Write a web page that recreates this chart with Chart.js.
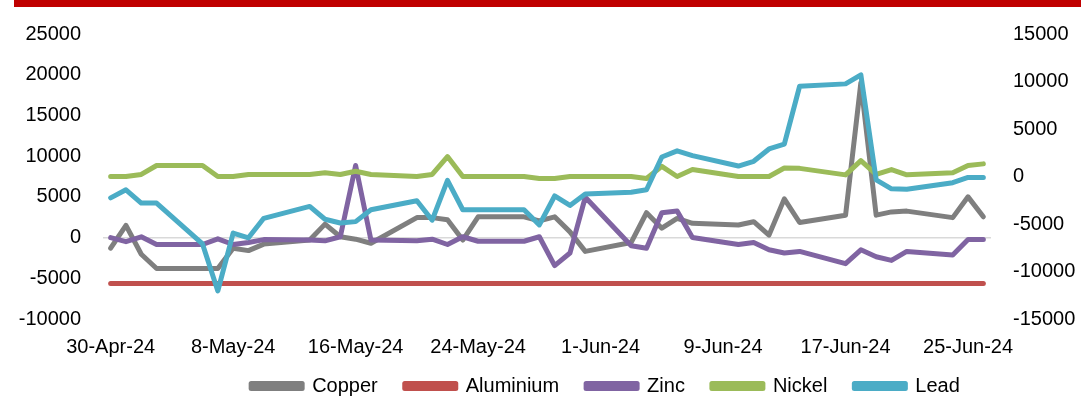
<!DOCTYPE html>
<html lang="en">

<head>
  <meta charset="UTF-8">
  <title>Metals</title>
  <script src="https://cdn.jsdelivr.net/npm/chart.js@4.4.1/dist/chart.umd.min.js"></script>
  <style>
    body {
      margin: 0;
      overflow: hidden;
      background: #fff;
    }

    .bar {
      position: absolute;
      left: 14px;
      top: 0;
      width: 1067px;
      height: 7px;
      background: #c00000;
    }

    .chart-container {
      position: relative;
      width: 1081px;
      height: 417px;
    }
  </style>
</head>

<body>
  <div class="chart-container">
    <canvas id="chart"></canvas>
  </div>
  <div class="bar"></div>

  <script>
    const dates = [
      '30-Apr-24', '1-May-24', '2-May-24', '3-May-24', '4-May-24', '5-May-24', '6-May-24', '7-May-24',
      '8-May-24', '9-May-24', '10-May-24', '11-May-24', '12-May-24', '13-May-24', '14-May-24', '15-May-24',
      '16-May-24', '17-May-24', '18-May-24', '19-May-24', '20-May-24', '21-May-24', '22-May-24', '23-May-24',
      '24-May-24', '25-May-24', '26-May-24', '27-May-24', '28-May-24', '29-May-24', '30-May-24', '31-May-24',
      '1-Jun-24', '2-Jun-24', '3-Jun-24', '4-Jun-24', '5-Jun-24', '6-Jun-24', '7-Jun-24', '8-Jun-24',
      '9-Jun-24', '10-Jun-24', '11-Jun-24', '12-Jun-24', '13-Jun-24', '14-Jun-24', '15-Jun-24', '16-Jun-24',
      '17-Jun-24', '18-Jun-24', '19-Jun-24', '20-Jun-24', '21-Jun-24', '22-Jun-24', '23-Jun-24', '24-Jun-24',
      '25-Jun-24', '26-Jun-24'
    ];

    // weekends are null, the line jumps over them
    const copper = [
      -1300, 1500, -2050, -3800, null, null, -3800, -3800,
      -1300, -1600, -800, null, null, -300, 1650, 100,
      -200, -700, null, null, 2450, 2450, 2200, -300,
      2550, null, null, 2550, 2050, 2550, 700, -1700,
      null, null, -600, 3050, 1150, 2350, 1750, null,
      null, 1550, 1950, 300, 4750, 1850, null, null,
      2750, 19000, 2750, 3150, 3250, null, null, 2450,
      5000, 2550
    ];

    const aluminium = [
      -5650, -5650, -5650, -5650, null, null, -5650, -5650,
      -5650, -5650, -5650, null, null, -5650, -5650, -5650,
      -5650, -5650, null, null, -5650, -5650, -5650, -5650,
      -5650, null, null, -5650, -5650, -5650, -5650, -5650,
      null, null, -5650, -5650, -5650, -5650, -5650, null,
      null, -5650, -5650, -5650, -5650, -5650, null, null,
      -5650, -5650, -5650, -5650, -5650, null, null, -5650,
      -5650, -5650
    ];

    const zinc = [
      0, -500, 100, -850, null, null, -850, -150,
      -850, -600, -250, null, null, -300, -400, 100,
      8850, -300, null, null, -400, -200, -850, 100,
      -450, null, null, -450, 100, -3450, -1900, 4950,
      null, null, -1000, -1300, 3050, 3250, 0, null,
      null, -850, -600, -1500, -1900, -1700, null, null,
      -3200, -1500, -2350, -2800, -1700, null, null, -2150,
      -250, -250
    ];

    const nickel = [
      7500, 7500, 7750, 8850, null, null, 8850, 7500,
      7500, 7750, 7750, null, null, 7750, 7950, 7750,
      8150, 7750, null, null, 7500, 7750, 9950, 7500,
      7500, null, null, 7500, 7250, 7250, 7500, 7500,
      null, null, 7500, 7250, 8750, 7500, 8350, null,
      null, 7500, 7500, 7500, 8550, 8500, null, null,
      7700, 9450, 7750, 8350, 7700, null, null, 7950,
      8850, 9050
    ];

    // lead is read against the right hand axis
    const lead = [
      -2250, -1400, -2800, -2800, null, null, -7100, -12050,
      -5950, -6450, -4400, null, null, -3150, -4500, -4900,
      -4750, -3500, null, null, -2550, -4600, -400, -3500,
      -3500, null, null, -3500, -5100, -2050, -3050, -1850,
      null, null, -1650, -1400, 2050, 2700, 2200, null,
      null, 1100, 1600, 2900, 3400, 9500, null, null,
      9750, 10700, -350, -1300, -1350, null, null, -650,
      -100, -100
    ];

    const font = { family: '"Liberation Sans", Arial, sans-serif', size: 20 };

    function line(label, data, color, axis, order) {
      return {
        label: label,
        data: data,
        yAxisID: axis,
        order: order,
        borderColor: color,
        backgroundColor: color,
        borderWidth: 5,
        borderJoinStyle: 'round',
        borderCapStyle: 'round',
        pointRadius: 0,
        tension: 0,
        spanGaps: true
      };
    }

    // move the legend a bit right and up, like the excel original
    const shiftLegend = {
      id: 'shiftLegend',
      afterLayout(chart) {
        chart.legend.left += 65;
        chart.legend.right += 65;
        chart.legend.top -= 11;
        chart.legend.bottom -= 11;
      }
    };

    new Chart(document.getElementById('chart'), {
      type: 'line',
      data: {
        labels: dates,
        datasets: [
          line('Copper', copper, '#7f7f7f', 'y', 5),
          line('Aluminium', aluminium, '#c0504d', 'y', 4),
          line('Zinc', zinc, '#8064a2', 'y', 3),
          line('Nickel', nickel, '#9bbb59', 'y', 2),
          line('Lead', lead, '#4bacc6', 'y1', 1)
        ]
      },
      plugins: [shiftLegend],
      options: {
        responsive: true,
        maintainAspectRatio: false,
        animation: false,
        layout: { padding: { top: 24, left: 0, right: 0, bottom: 0 } },
        plugins: {
          tooltip: { enabled: false },
          legend: {
            position: 'bottom',
            labels: {
              font: font,
              color: '#000',
              boxWidth: 51,
              boxHeight: 5,
              padding: 27,
              sort: (a, b) => a.datasetIndex - b.datasetIndex
            }
          }
        },
        scales: {
          x: {
            offset: true,
            grid: { display: false, drawTicks: false },
            border: { display: false },
            afterFit: s => { s.height = 41; },
            ticks: {
              autoSkip: false,
              maxRotation: 0,
              padding: 16,
              font: font,
              color: '#000',
              callback: (v, i) => i % 8 === 0 ? dates[i] : ''
            }
          },
          y: {
            position: 'left',
            min: -10000,
            max: 25000,
            afterFit: s => { s.width = 103; },
            border: { display: false },
            grid: {
              drawTicks: false,
              lineWidth: 1.5,
              color: c => c.tick && c.tick.value === 0 ? '#d9d9d9' : 'transparent'
            },
            ticks: { stepSize: 5000, padding: 22, font: font, color: '#000', callback: v => String(v) }
          },
          y1: {
            position: 'right',
            min: -15000,
            max: 15000,
            afterFit: s => { s.width = 90; },
            border: { display: false },
            grid: { display: false, drawTicks: false },
            ticks: { stepSize: 5000, padding: 22, font: font, color: '#000', callback: v => String(v) }
          }
        }
      }
    });
  </script>
</body>

</html>
